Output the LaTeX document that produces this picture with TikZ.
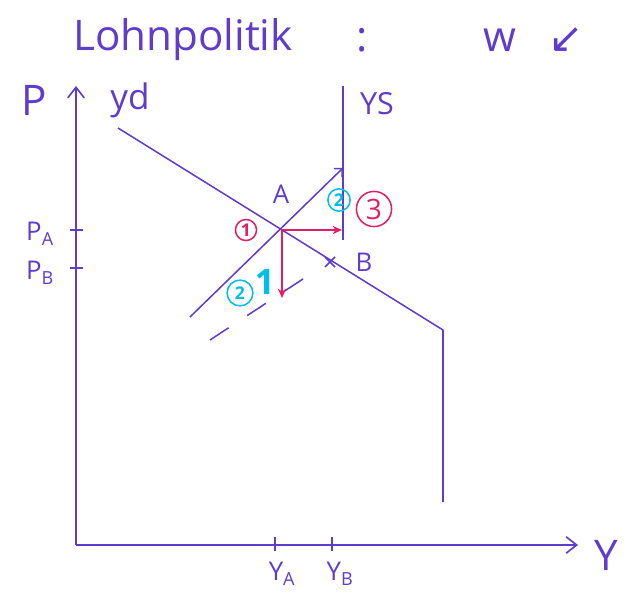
\documentclass[tikz,border=0pt]{standalone}
\usepackage{fontspec}
\setmainfont{Open Sans}
\newfontfamily\symfont{DejaVu Sans}
\usepackage{xcolor}
\usetikzlibrary{arrows.meta, positioning, calc}
\definecolor{ink}{RGB}{95,60,205}
\definecolor{redink}{RGB}{228,30,100}
\definecolor{cyanink}{RGB}{0,190,230}

\begin{document}
\begin{tikzpicture}[x=0.03cm, y=-0.03cm,
    axis/.style={draw=ink, line width=1.4pt, -{Straight Barb[length=9pt, width=14pt, line width=1.4pt]}},
    curve/.style={draw=ink, line width=1.3pt},
    tick/.style={draw=ink, line width=1.2pt},
    lbl/.style={text=ink, inner sep=1pt, font=\fontsize{22}{24}\selectfont},
    big/.style={text=ink, inner sep=1pt, font=\fontsize{36}{40}\selectfont},
    shiftarrow/.style={->, >={Stealth[length=8pt, width=7pt]}, draw=redink, line width=1.6pt},
    circnum/.style={circle, draw=#1, text=#1, line width=1.3pt, inner sep=0pt, font=\bfseries\fontsize{15}{16}\selectfont}
]
\useasboundingbox (0,0) rectangle (627,598);

% Title
\node[big] (title) at (183,40) {Lohnpolitik};
\node[big] (colon) at (362,40) {:};
\node[big] (wage) at (500,40) {w};
\node[big] (down) at (566,40) {\symfont ↙};

% Axes
\coordinate (O) at (76,545);
\coordinate (Ptop) at (76,86);
\coordinate (Yend) at (578,545);
\draw[axis] (O) -- (Ptop);
\draw[axis] (O) -- (Yend);
\node[big] (P) at (34,100) {P};
\node[big] (Y) at (606,555) {Y};

% Demand curve Yd
\coordinate (d1) at (118,128);
\coordinate (d2) at (443,330);
\coordinate (d3) at (443,502);
\draw[curve] (d1) -- (d2) -- (d3);
\node[big, font=\fontsize{30}{32}\selectfont] (yd) at (130,100) {yd};

% Supply curve YS
\coordinate (s1) at (190,317);
\coordinate (s2) at (343,168);
\coordinate (s3) at (343,86);
\coordinate (s4) at (343,240);
\draw[curve, -{Straight Barb[length=5pt]}] (s1) -- (s2);
\draw[curve] (s3) -- (s4);
\node[lbl, font=\fontsize{26}{28}\selectfont] (ys) at (377,104) {YS};

% Shifted supply (dashed)
\coordinate (n1) at (210,340);
\coordinate (n2) at (306,277);
\draw[curve, dash pattern=on 19pt off 19pt] (n1) -- (n2);

% Equilibria
\coordinate (A) at (282,230);
\coordinate (B) at (330,262);
\draw[curve] ($(B)+(-5,-5)$) -- ($(B)+(5,5)$) ($(B)+(-5,5)$) -- ($(B)+(5,-5)$);
\node[lbl] (labA) at (281,194) {A};
\node[lbl] (labB) at (364,262) {B};

% Adjustment arrows
\coordinate (A3) at (342,230);
\coordinate (A1) at (282,298);
\draw[shiftarrow] (A) -- (A3);
\draw[shiftarrow] (A) -- (A1);
\node[circnum=redink, minimum size=18pt] (r1) at (246,230) {1};
\node[circnum=redink, minimum size=30pt, font=\fontsize{24}{26}\selectfont] (r3) at (374,209) {3};
\node[circnum=cyanink, minimum size=22pt] (c2) at (240,293) {2};
\node[text=cyanink, font=\bfseries\fontsize{30}{32}\selectfont, inner sep=0pt] (c1) at (265,282) {1};
\node[circnum=cyanink, minimum size=19pt] (c2b) at (339,200) {2};

% Axis ticks
\draw[tick] (70,230) -- (83,230);
\draw[tick] (70,268) -- (83,268);
\draw[tick] (275,537) -- (275,551);
\draw[tick] (332,537) -- (332,551);
\node[lbl] (pa) at (40,234) {P\textsubscript{A}};
\node[lbl] (pb) at (40,273) {P\textsubscript{B}};
\node[lbl] (ya) at (282,574) {Y\textsubscript{A}};
\node[lbl] (yb) at (340,574) {Y\textsubscript{B}};

\end{tikzpicture}
\end{document}
